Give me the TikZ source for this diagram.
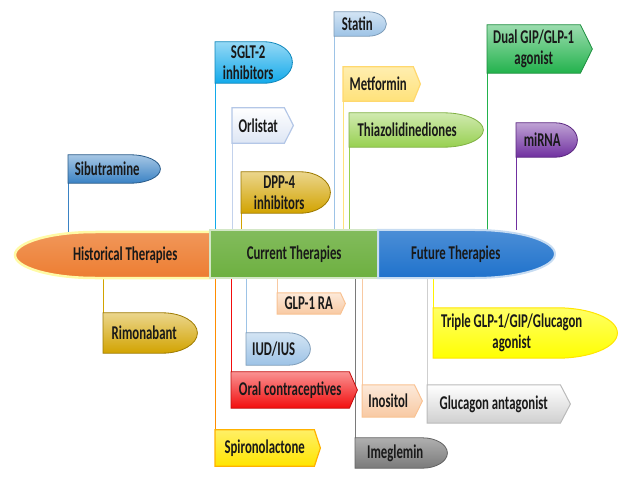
\documentclass[tikz,border=0pt]{standalone}
\usepackage{fontspec}
\usetikzlibrary{calc,backgrounds}
\newfontfamily\lblfont{Carlito}[FakeStretch=0.655]
\definecolor{cOrange}{HTML}{ED7D31}
\definecolor{cGreen}{HTML}{6DB040}
\definecolor{cBlue}{HTML}{1F72CC}
\definecolor{cSib}{HTML}{3A82C4}
\definecolor{cGold}{HTML}{D2A300}
\definecolor{cCyan}{HTML}{12A9EA}
\definecolor{cOrl}{HTML}{B4C7E7}
\definecolor{cLBlue}{HTML}{9DC3E6}
\definecolor{cMet}{HTML}{FFE27A}
\definecolor{cThz}{HTML}{97D050}
\definecolor{cDual}{HTML}{22B24C}
\definecolor{cMir}{HTML}{7030A0}
\definecolor{cPeach}{HTML}{F8C9A2}
\definecolor{cRed}{HTML}{F20D0D}
\definecolor{cSpir}{HTML}{FFE500}
\definecolor{cGray}{HTML}{7A7A7A}
\definecolor{cLGray}{HTML}{CFCFCF}
\definecolor{cYel}{HTML}{FFFF00}
\tikzset{
  lbl/.style={inner sep=0pt, align=center, anchor=west, text=black!90,
    font=\lblfont\bfseries\fontsize{19.5}{21}\selectfont},
  conn/.style={line width=1.3pt},
  shade2/.style 2 args={top color=#1!45!white, bottom color=#1, draw=#2, line width=0.8pt},
}
\newcommand\bulshape[4]{%
  \path[#4] let \p1=(#1.north east), \p2=(#1.south east), \p3=(#1.south west) in
   (\p3) -- (\x3,\y1) -- ({\x1+#2pt-#3pt},\y1)
   arc[start angle=90,end angle=-90,x radius=#3pt,y radius={(\y1-\y2)/2}] -- cycle;}
\newcommand\pentshape[3]{%
  \path[#3] (#1.south west) -- (#1.north west) -- (#1.north east)
   -- ([xshift=#2pt]#1.east) -- (#1.south east) -- cycle;}
\begin{document}
\begin{tikzpicture}[x=1pt,y=-1pt]
\useasboundingbox (0,0) rectangle (626,481);
% bar
\node[lbl, minimum width=170pt, minimum height=46pt] (hist) at (40,255) {Historical Therapies};
\node[lbl, minimum width=168pt, minimum height=48pt] (curr) at (210,254) {Current Therapies};
\node[lbl, minimum width=155pt, minimum height=48pt] (fut) at (378,254) {Future Therapies};
% flags above
\node[lbl, minimum width=78pt, minimum height=28pt] (sib) at (68,169) {Sibutramine};
\node[lbl, minimum width=66pt, minimum height=41pt] (sglt) at (215,62.5) {SGLT-2\\inhibitors};
\node[lbl, minimum width=52pt, minimum height=35pt] (orl) at (232,125.5) {Orlistat};
\node[lbl, minimum width=76pt, minimum height=41pt] (dpp) at (241,192.5) {DPP-4\\inhibitors};
\node[lbl, minimum width=46pt, minimum height=24pt] (stat) at (334,24) {Statin};
\node[lbl, minimum width=70pt, minimum height=34pt] (met) at (343,84) {Metformin};
\node[lbl, minimum width=116pt, minimum height=34pt] (thz) at (349,130) {Thiazolidinediones};
\node[lbl, minimum width=93pt, minimum height=48pt] (dual) at (487,49) {Dual GIP/GLP-1\\agonist};
\node[lbl, minimum width=52pt, minimum height=34pt] (mir) at (516,140) {miRNA};
% flags below
\node[lbl, minimum width=82pt, minimum height=40pt] (rim) at (103,333) {Rimonabant};
\node[lbl, minimum width=63pt, minimum height=21pt] (glp) at (277,303.5) {GLP-1 RA};
\node[lbl, minimum width=55pt, minimum height=32pt] (iud) at (246,349) {IUD/IUS};
\node[lbl, minimum width=118pt, minimum height=36pt] (oral) at (231,390) {Oral contraceptives};
\node[lbl, minimum width=99pt, minimum height=36pt] (spir) at (215,448) {Spironolactone};
\node[lbl, minimum width=52pt, minimum height=32pt] (ino) at (362,401) {Inositol};
\node[lbl, minimum width=80pt, minimum height=30pt] (ime) at (355,453) {Imeglemin};
\node[lbl, minimum width=133pt, minimum height=38pt] (gant) at (427,404) {Glucagon antagonist};
\node[lbl, minimum width=157pt, minimum height=50pt] (trip) at (433,333) {Triple GLP-1/GIP/Glucagon\\agonist};
\begin{scope}[on background layer]
  % connectors above
  \draw[conn, cSib] ([xshift=0.7pt]sib.south west) -- ([xshift=0.7pt]sib.south west |- hist.north);
  \draw[conn, cCyan] ([xshift=0.7pt]sglt.south west) -- ([xshift=0.7pt]sglt.south west |- curr.north);
  \draw[conn, cOrl!80] ([xshift=0.7pt]orl.south west) -- ([xshift=0.7pt]orl.south west |- curr.north);
  \draw[conn, cGold] ([xshift=0.7pt]dpp.south west) -- ([xshift=0.7pt]dpp.south west |- curr.north);
  \draw[conn, cLBlue] ([xshift=0.7pt]stat.south west) -- ([xshift=0.7pt]stat.south west |- curr.north);
  \draw[conn, cMet] ([xshift=0.7pt]met.south west) -- ([xshift=0.7pt]met.south west |- curr.north);
  \draw[conn, cThz] ([xshift=0.7pt]thz.south west) -- ([xshift=0.7pt]thz.south west |- curr.north);
  \draw[conn, cDual] ([xshift=0.7pt]dual.south west) -- ([xshift=0.7pt]dual.south west |- fut.north);
  \draw[conn, cMir] ([xshift=0.7pt]mir.south west) -- ([xshift=0.7pt]mir.south west |- fut.north);
  % connectors below
  \draw[conn, cGold] ([xshift=0.7pt]rim.north west) -- ([xshift=0.7pt]rim.north west |- hist.south);
  \draw[conn, cPeach] ([xshift=0.7pt]glp.north west) -- ([xshift=0.7pt]glp.north west |- curr.south);
  \draw[conn, cLBlue] ([xshift=0.7pt]iud.north west) -- ([xshift=0.7pt]iud.north west |- curr.south);
  \draw[conn, cRed] ([xshift=0.7pt]oral.north west) -- ([xshift=0.7pt]oral.north west |- curr.south);
  \draw[conn, orange!90!yellow] ([xshift=0.7pt]spir.north west) -- ([xshift=0.7pt]spir.north west |- curr.south);
  \draw[conn, cPeach] ([xshift=0.7pt]ino.north west) -- ([xshift=0.7pt]ino.north west |- curr.south);
  \draw[conn, cGray] ([xshift=0.7pt]ime.north west) -- ([xshift=0.7pt]ime.north west |- curr.south);
  \draw[conn, cLGray] ([xshift=0.7pt]gant.north west) -- ([xshift=0.7pt]gant.north west |- fut.south);
  \draw[conn, cYel!90!orange] ([xshift=0.7pt]trip.north west) -- ([xshift=0.7pt]trip.north west |- fut.south);
  % main bar
  \path[draw=yellow!35, line width=2.5pt, top color=cOrange!80!white, bottom color=cOrange]
    (hist.north east) -- (95,232) arc[start angle=90,end angle=270,x radius=80pt,y radius=23pt]
    -- (hist.south east) -- cycle;
  \path[draw=cGreen!30, line width=2.5pt, top color=cGreen!85!white, bottom color=cGreen]
    (curr.north west) rectangle (curr.south east);
  \path[draw=cBlue!25, line width=2pt, top color=cBlue!80!white, bottom color=cBlue]
    (fut.north west) -- (475,230) arc[start angle=90,end angle=-90,x radius=80pt,y radius=24pt]
    -- (fut.south west) -- cycle;
  % flag shapes
  \bulshape{sib}{14}{30}{shade2={cSib}{cSib!70!black}}
  \bulshape{sglt}{11}{28}{shade2={cCyan}{cCyan!80!black}}
  \pentshape{orl}{9}{top color=white, bottom color=cOrl!45, draw=cOrl, line width=1.2pt}
  \bulshape{dpp}{13}{30}{shade2={cGold}{cGold!75!black}}
  \bulshape{stat}{6}{18}{shade2={cLBlue}{cLBlue!80!black}}
  \pentshape{met}{7}{top color=cMet!60!white, bottom color=cMet, draw=cMet!90!orange, line width=1.2pt}
  \bulshape{thz}{18}{40}{shade2={cThz}{cThz!85!black}}
  \pentshape{dual}{12}{shade2={cDual}{cDual!80!black}}
  \bulshape{mir}{9}{22}{shade2={cMir}{cMir!80!black}}
  \bulshape{rim}{12}{35}{shade2={cGold}{cGold!75!black}}
  \pentshape{glp}{5}{top color=cPeach!40!white, bottom color=cPeach, draw=cPeach!90!orange, line width=1pt}
  \bulshape{iud}{9}{22}{shade2={cLBlue}{cLBlue!80!black}}
  \pentshape{oral}{8}{shade2={cRed}{cRed!80!black}}
  \pentshape{spir}{6}{top color=cSpir!60!white, bottom color=cSpir, draw=orange!60!yellow, line width=1.2pt}
  \pentshape{ino}{8}{top color=cPeach!40!white, bottom color=cPeach, draw=cPeach!90!orange, line width=1pt}
  \bulshape{ime}{12}{25}{top color=cGray!60!white, bottom color=cGray, draw=cGray!80!black, line width=0.8pt}
  \pentshape{gant}{10}{top color=white, bottom color=cLGray, draw=cLGray!90!black, line width=1pt}
  \bulshape{trip}{27}{60}{top color=cYel!60!white, bottom color=cYel, draw=cYel!80!orange, line width=1pt}
\end{scope}
\end{tikzpicture}
\end{document}
